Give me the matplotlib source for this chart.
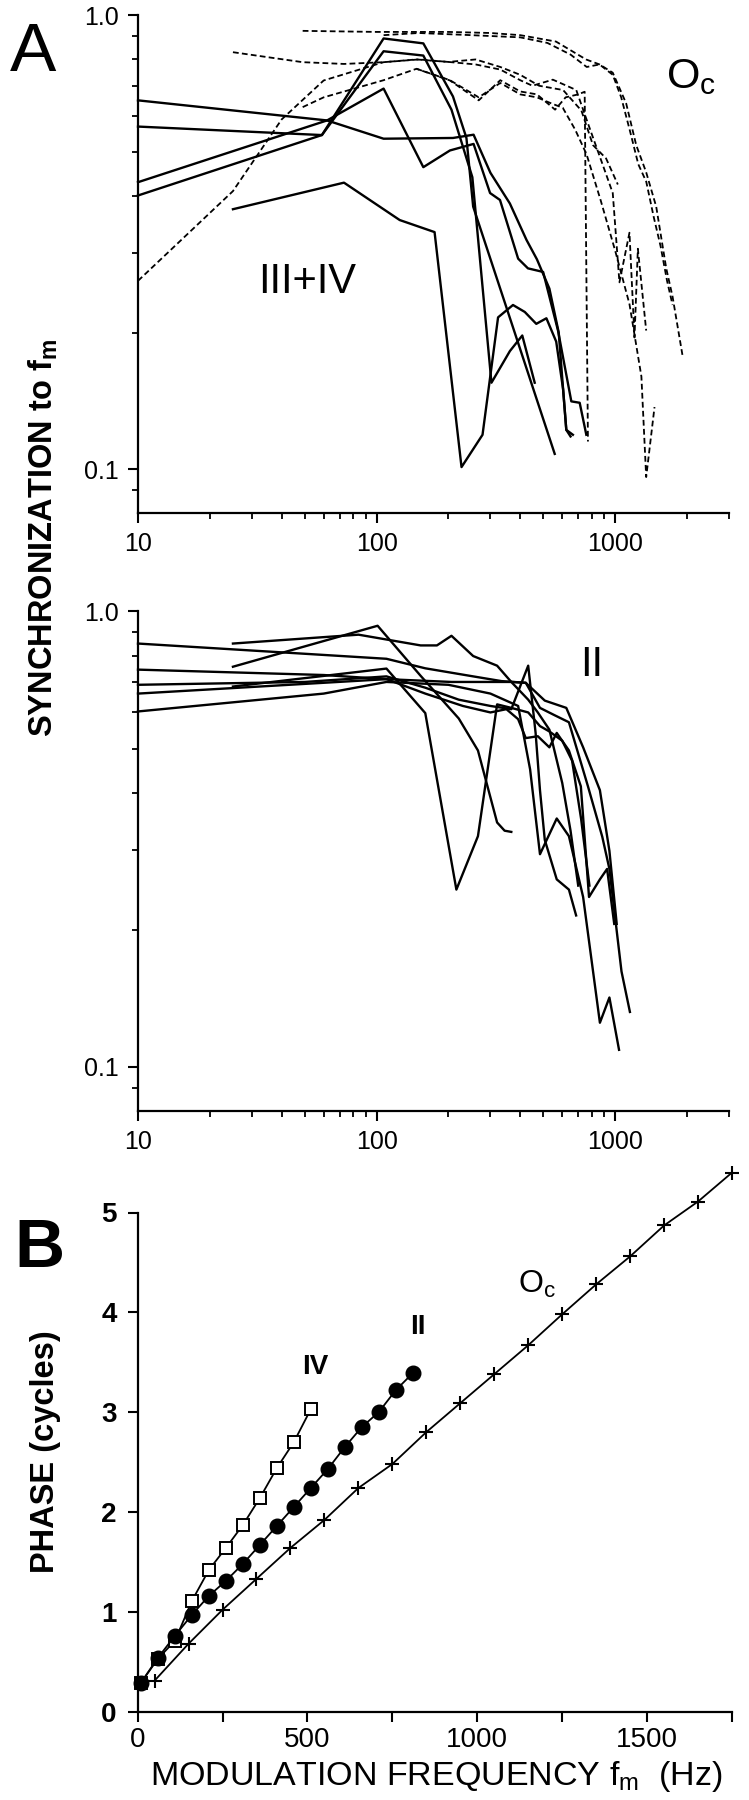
import matplotlib
matplotlib.use('Agg')
import matplotlib.pyplot as plt
from matplotlib import font_manager

# ---------------- Panel A (upper): types III+IV (solid) and Oc (dashed) ----------------
# modulation frequency (Hz) / synchronization pairs, one pair of lists per unit
t1_f = [10, 62, 107, 209, 255, 300, 362, 425, 470, 530, 580, 605, 624, 665]
t1_s = [0.65, 0.587, 0.535, 0.537, 0.546, 0.45, 0.385, 0.32, 0.29, 0.25, 0.20, 0.150, 0.122, 0.119]
t2_f = [10, 59, 107, 157, 209, 238, 254, 558]
t2_s = [0.569, 0.545, 0.89, 0.868, 0.663, 0.537, 0.379, 0.108]
t3_f = [10, 62, 107, 157, 203, 255, 299, 329, 392, 431, 499, 576, 655, 710, 757]
t3_s = [0.429, 0.587, 0.69, 0.463, 0.504, 0.521, 0.406, 0.392, 0.291, 0.277, 0.272, 0.202, 0.141, 0.140, 0.119]
t4_f = [10, 59, 107, 157, 206, 252, 303, 362, 408, 460]
t4_s = [0.401, 0.545, 0.834, 0.816, 0.62, 0.44, 0.155, 0.182, 0.197, 0.155]
t5_f = [25, 73, 125, 175, 227, 278, 323, 373, 418, 467, 515, 566, 605, 624, 650]
t5_s = [0.374, 0.428, 0.354, 0.333, 0.101, 0.119, 0.216, 0.23, 0.222, 0.209, 0.215, 0.191, 0.150, 0.122, 0.118]

d1_f = [49, 100, 200, 300, 400, 565, 755, 860, 977, 1112, 1225, 1349, 1486, 1637, 1740, 1919]
d1_s = [0.925, 0.92, 0.92, 0.915, 0.905, 0.876, 0.80, 0.78, 0.748, 0.64, 0.518, 0.451, 0.379, 0.277, 0.24, 0.177]
d2_f = [107, 150, 250, 400, 520, 650, 760, 860, 977, 1060, 1150, 1250, 1350, 1450, 1550, 1650, 1740]
d2_s = [0.905, 0.915, 0.905, 0.895, 0.87, 0.82, 0.77, 0.78, 0.74, 0.66, 0.56, 0.47, 0.43, 0.36, 0.31, 0.26, 0.23]
d3_f = [25, 49, 73, 107, 150, 200, 260, 330, 400, 450, 548, 687, 750, 889, 977, 1042, 1148, 1205, 1245, 1349]
d3_s = [0.83, 0.789, 0.782, 0.789, 0.80, 0.79, 0.78, 0.76, 0.72, 0.70, 0.722, 0.685, 0.60, 0.467, 0.406, 0.258, 0.332, 0.195, 0.306, 0.202]
d4_f = [10, 25, 40, 60, 107, 147, 200, 260, 330, 400, 480, 605, 722, 807, 916, 1026]
d4_s = [0.26, 0.41, 0.59, 0.719, 0.789, 0.80, 0.79, 0.80, 0.77, 0.74, 0.70, 0.685, 0.617, 0.518, 0.484, 0.424]
d5_f = [49, 60, 107, 147, 203, 268, 330, 400, 470, 560, 620, 700, 745, 769]
d5_s = [0.628, 0.66, 0.72, 0.763, 0.719, 0.65, 0.72, 0.68, 0.67, 0.62, 0.66, 0.67, 0.679, 0.115]
d6_f = [147, 203, 268, 330, 400, 470, 540, 603, 680, 759, 871, 1000, 1148, 1288, 1349, 1462]
d6_s = [0.763, 0.72, 0.66, 0.71, 0.67, 0.66, 0.64, 0.626, 0.56, 0.494, 0.39, 0.303, 0.231, 0.160, 0.096, 0.137]

# ---------------- Panel A (lower): type II ----------------
m1_f = [10, 110, 160, 254, 334, 422, 507, 624, 734, 863, 946, 1015]
m1_s = [0.85, 0.787, 0.75, 0.72, 0.703, 0.697, 0.637, 0.614, 0.503, 0.405, 0.298, 0.206]
m2_f = [10, 60, 110, 206, 300, 367, 422, 484, 556, 640, 769, 883, 946, 1063, 1153]
m2_s = [0.745, 0.725, 0.71, 0.70, 0.70, 0.70, 0.697, 0.614, 0.592, 0.571, 0.413, 0.32, 0.272, 0.162, 0.132]
m3_f = [10, 50, 110, 160, 221, 300, 367, 432, 464, 484, 507, 569, 640, 686]
m3_s = [0.69, 0.70, 0.72, 0.68, 0.64, 0.62, 0.61, 0.76, 0.541, 0.405, 0.315, 0.258, 0.245, 0.215]
m4_f = [10, 110, 160, 230, 300, 350, 392, 422, 474, 530, 569, 640, 718, 777, 863, 925, 991]
m4_s = [0.66, 0.71, 0.66, 0.62, 0.60, 0.61, 0.58, 0.527, 0.532, 0.503, 0.541, 0.495, 0.413, 0.236, 0.258, 0.272, 0.206]
m5_f = [10, 60, 110, 200, 300, 392, 440, 484, 569, 640, 734, 863, 946, 1038]
m5_s = [0.603, 0.66, 0.70, 0.69, 0.66, 0.62, 0.45, 0.293, 0.351, 0.321, 0.236, 0.125, 0.142, 0.109]
m6_f = [25, 84, 153, 179, 206, 254, 320, 367, 432, 474, 530, 600, 650, 700]
m6_s = [0.85, 0.889, 0.842, 0.842, 0.884, 0.798, 0.76, 0.70, 0.64, 0.60, 0.55, 0.42, 0.33, 0.25]
m7_f = [25, 101, 153, 221, 266, 320, 344, 367]
m7_s = [0.756, 0.93, 0.722, 0.582, 0.495, 0.344, 0.33, 0.328]
m8_f = [25, 110, 160, 216, 266, 320, 367, 432, 484, 530, 600, 660, 720, 780]
m8_s = [0.684, 0.749, 0.598, 0.245, 0.321, 0.625, 0.614, 0.60, 0.56, 0.545, 0.52, 0.47, 0.35, 0.25]

# ---------------- Panel B: phase vs modulation frequency ----------------
iv_f = [10, 60, 110, 160, 210, 260, 310, 360, 410, 460, 510]
iv_p = [0.29, 0.53, 0.71, 1.11, 1.42, 1.64, 1.87, 2.14, 2.44, 2.70, 3.03]
ii_f = [10, 60, 110, 160, 210, 260, 310, 360, 410, 460, 510, 560, 610, 660, 710, 760, 810]
ii_p = [0.29, 0.54, 0.76, 0.97, 1.16, 1.31, 1.48, 1.67, 1.86, 2.05, 2.24, 2.43, 2.65, 2.85, 3.00, 3.22, 3.39]
oc_f = [50, 150, 250, 350, 450, 550, 650, 750, 850, 950, 1050, 1150, 1250, 1350, 1450, 1550, 1650, 1750]
oc_p = [0.31, 0.68, 1.02, 1.33, 1.64, 1.92, 2.24, 2.48, 2.80, 3.09, 3.38, 3.67, 3.98, 4.28, 4.56, 4.87, 5.11, 5.40]

solid_top = [(t1_f, t1_s), (t2_f, t2_s), (t3_f, t3_s), (t4_f, t4_s), (t5_f, t5_s)]
dashed_top = [(d1_f, d1_s), (d2_f, d2_s), (d3_f, d3_s), (d4_f, d4_s), (d5_f, d5_s), (d6_f, d6_s)]
solid_mid = [(m1_f, m1_s), (m2_f, m2_s), (m3_f, m3_s), (m4_f, m4_s),
             (m5_f, m5_s), (m6_f, m6_s), (m7_f, m7_s), (m8_f, m8_s)]

# fonts
names = {f.name for f in font_manager.fontManager.ttflist}
if 'Liberation Sans Narrow' in names:
    narrow, tick_fs = 'Liberation Sans Narrow', 21
else:
    narrow, tick_fs = 'Liberation Sans', 18
plt.rcParams['font.family'] = ['Liberation Sans', 'DejaVu Sans']
plt.rcParams['mathtext.fontset'] = 'custom'
plt.rcParams['mathtext.rm'] = 'Liberation Sans'
plt.rcParams['mathtext.it'] = 'Liberation Sans'
plt.rcParams['mathtext.bf'] = 'Liberation Sans:bold'

W, H = 749, 1800
fig = plt.figure(figsize=(W / 100, H / 100), dpi=100)


def box(x0, x1, y_top, y_bot):
    # axes rectangle from pixel edges
    return [x0 / W, 1 - y_bot / H, (x1 - x0) / W, (y_bot - y_top) / H]


def style_axes(ax):
    for s in ['top', 'right']:
        ax.spines[s].set_visible(False)
    for s in ['left', 'bottom']:
        ax.spines[s].set_linewidth(1.6)
    ax.tick_params(which='major', direction='out', length=7, width=1.5, pad=7)
    ax.tick_params(which='minor', direction='out', length=4, width=1.3)


def style_log(ax):
    ax.set_xscale('log')
    ax.set_yscale('log')
    ax.set_xlim(10, 3000)
    ax.set_ylim(0.08, 1.0)
    style_axes(ax)
    ax.set_xticks([10, 100, 1000])
    ax.set_xticklabels(['10', '100', '1000'])
    ax.set_xticks([20, 30, 40, 50, 60, 70, 80, 90, 200, 300, 400, 500, 600, 700, 800, 900, 2000, 3000], minor=True)
    ax.set_xticklabels([], minor=True)
    ax.set_yticks([0.1, 1.0])
    ax.set_yticklabels(['0.1', '1.0'])
    ax.set_yticks([0.09, 0.2, 0.3, 0.4, 0.5, 0.6, 0.7, 0.8, 0.9], minor=True)
    ax.set_yticklabels([], minor=True)
    for lab in ax.get_xticklabels() + ax.get_yticklabels():
        lab.set_fontfamily(narrow)
        lab.set_fontsize(tick_fs)


# upper panel
ax1 = fig.add_axes(box(138, 729, 15.5, 513))
style_log(ax1)
for f, s in dashed_top:
    ax1.plot(f, s, color='black', lw=1.3, ls=(0, (3.2, 1.8)), clip_on=False)
for f, s in solid_top:
    ax1.plot(f, s, color='black', lw=1.7, clip_on=False)
ax1.text(0.893, 0.855, r'O$_\mathregular{c}$', transform=ax1.transAxes, fontsize=31)
ax1.text(0.203, 0.442, 'III+IV', transform=ax1.transAxes, fontsize=30, family=narrow)

# middle panel
ax2 = fig.add_axes(box(138, 729, 611.4, 1111))
style_log(ax2)
for f, s in solid_mid:
    ax2.plot(f, s, color='black', lw=1.7, clip_on=False)
ax2.text(0.748, 0.871, 'II', transform=ax2.transAxes, fontsize=30, family=narrow)

# phase panel
ax3 = fig.add_axes(box(137.6, 732, 1212.5, 1711.6))
style_axes(ax3)
ax3.set_xlim(0, 1750)
ax3.set_ylim(0, 5)
ax3.spines['left'].set_bounds(0, 5)
ax3.set_xticks([0, 500, 1000, 1500])
ax3.set_xticks([250, 750, 1250, 1750], minor=True)
ax3.set_yticks([0, 1, 2, 3, 4, 5])
ax3.tick_params(which='minor', length=7, width=1.5)
ax3.tick_params(axis='x', labelsize=20, pad=4)
ax3.tick_params(axis='y', labelsize=20, pad=8)
for lab in ax3.get_yticklabels():
    lab.set_fontweight('bold')

ax3.plot(oc_f, oc_p, color='black', lw=1.3, marker='+', ms=10, mew=1.5, clip_on=False)
ax3.plot(iv_f, iv_p, color='black', lw=1.3, marker='s', ms=8.5, mfc='white', mec='black', mew=1.4, clip_on=False)
ax3.plot(ii_f, ii_p, color='black', lw=1.3, marker='o', ms=10.5, mfc='black', mec='black', clip_on=False)
ax3.text(522, 3.45, 'IV', fontsize=20, fontweight='bold', ha='center', va='center')
ax3.text(824, 3.85, 'II', fontsize=20, fontweight='bold', ha='center', va='center')
ax3.text(1175, 4.28, r'O$_\mathregular{c}$', fontsize=23, ha='center', va='center')

# panel letters and axis titles
fig.text(9.5 / W, 1 - 71 / H, 'A', fontsize=50, ha='left', va='baseline')
fig.text(14 / W, 1 - 1267 / H, 'B', fontsize=50, fontweight='bold', ha='left', va='baseline')
fig.text(43 / W, 1 - 538 / H, r'SYNCHRONIZATION to $\mathregular{f_m}$', rotation=90,
         fontsize=23.5, fontweight='bold', ha='center', va='center')
fig.text(46 / W, 1 - 1452 / H, 'PHASE (cycles)', rotation=90,
         fontsize=23.5, fontweight='bold', ha='center', va='center')
fig.text(436 / W, 1 - 1776 / H, r'MODULATION FREQUENCY $\mathregular{f_m}$  (Hz)',
         fontsize=24.5, ha='center', va='center')

fig.savefig('out.png', dpi=100)
